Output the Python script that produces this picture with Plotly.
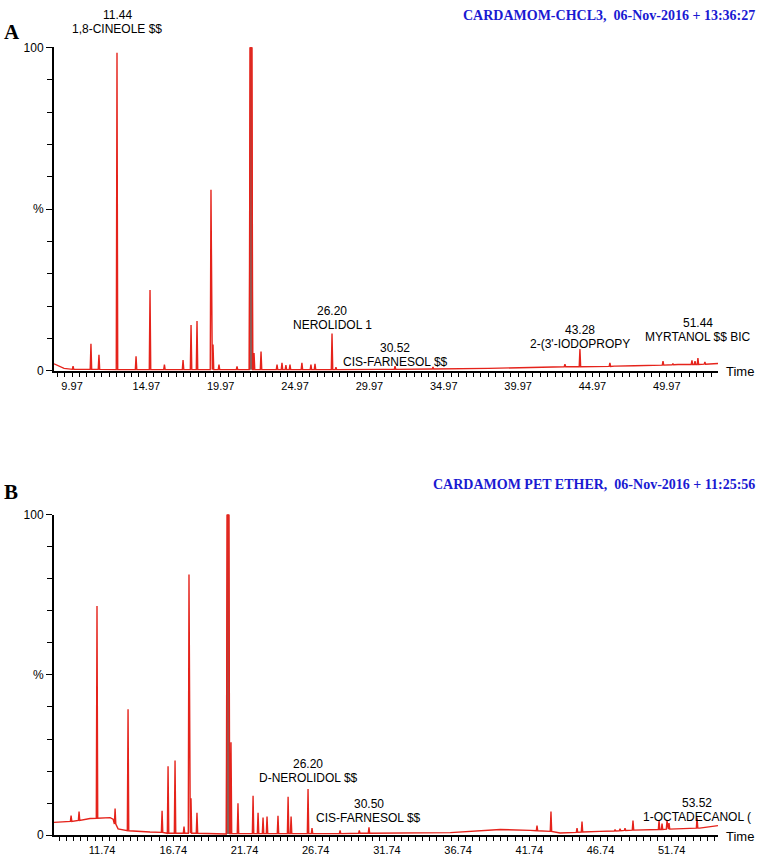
import plotly.graph_objects as go

# ---------------- Panel A data (CARDAMOM-CHCL3) ----------------
a_base_t = [7.11, 7.4, 7.8, 8.5, 12.0, 20.0, 29.5, 33.0, 37.0, 40.0, 44.0, 47.0, 50.0, 52.75]
a_base_y = [2.2, 1.6, 0.8, 0.5, 0.4, 0.4, 0.5, 0.6, 0.8, 1.1, 1.4, 1.6, 2.0, 2.3]
a_pk_t = [8.42, 9.65, 10.20, 11.44, 12.75, 13.71, 14.70, 15.98, 16.53, 16.94, 17.90, 18.04, 18.45,
          19.69, 20.86, 21.34, 22.44, 22.78, 23.05, 23.33, 24.15, 24.77, 25.05, 26.22, 26.49,
          30.55, 33.16, 42.23, 43.26, 45.32, 45.67, 48.97, 49.65, 50.96, 51.17, 51.37, 51.85]
a_pk_h = [1.5, 8.4, 5.0, 98.3, 4.5, 25.0, 2.0, 3.4, 14.2, 15.4, 56.0, 8.2, 2.0,
          1.4, 5.5, 6.0, 2.0, 2.5, 1.8, 2.0, 2.5, 2.0, 2.2, 11.6, 1.2,
          1.5, 1.2, 2.1, 6.8, 2.5, 1.6, 3.0, 2.3, 3.3, 3.0, 4.0, 2.8]
a_pk_f = [0.5, 0.5, 0.5, 0.4, 0.4, 0.4, 0.4, 0.4, 0.4, 0.4, 0.4, 0.4, 0.4,
          0.4, 0.4, 0.4, 0.4, 0.4, 0.4, 0.4, 0.4, 0.4, 0.4, 0.4, 0.4,
          0.5, 0.6, 1.3, 1.3, 1.4, 1.5, 1.8, 1.9, 2.0, 2.0, 2.0, 2.1]
a_main_t = [20.65]
a_main_h = [100.0]
a_lab_t = [11.44, 26.22, 30.55, 43.26, 51.37]
a_lab_y = [105.6, 14.3, 2.7, 8.3, 10.6]
a_lab_num = ["11.44", "26.20", "30.52", "43.28", "51.44"]
a_lab_name = ["1,8-CINEOLE $$", "NEROLIDOL 1", "CIS-FARNESOL $$", "2-(3'-IODOPROPY", "MYRTANOL $$ BIC"]
a_tick_text = ["9.97", "14.97", "19.97", "24.97", "29.97", "34.97", "39.97", "44.97", "49.97"]
a_tick_pos = [8.35, 13.46, 18.57, 23.68, 28.79, 33.90, 39.01, 44.12, 49.23]
a_title = "CARDAMOM-CHCL3,&nbsp; 06-Nov-2016 + 13:36:27"

# ---------------- Panel B data (CARDAMOM PET ETHER) ----------------
b_base_t = [8.36, 9.48, 10.89, 12.3, 12.51, 12.86, 13.35, 15.1, 16.5, 20.7, 30.0, 36.2,
            39.7, 41.8, 43.9, 46.7, 50.2, 53.7, 54.99]
b_base_y = [4.0, 4.3, 5.2, 5.5, 5.0, 2.0, 1.5, 1.0, 0.6, 0.5, 0.6, 0.8,
            1.8, 1.5, 0.7, 1.2, 1.8, 2.2, 3.0]
b_pk_t = [9.56, 10.12, 11.38, 12.65, 13.56, 15.95, 16.37, 16.86, 17.49, 17.84, 17.98, 18.40,
          20.79, 21.28, 22.34, 22.69, 23.04, 23.32, 24.09, 24.80, 25.01, 26.20, 26.48, 28.45,
          29.80, 30.48, 37.30, 38.77, 39.19, 42.28, 43.26, 45.09, 45.44, 47.76, 48.11, 48.46,
          49.02, 50.85, 51.06, 51.41, 51.55, 53.52]
b_pk_h = [6.1, 7.4, 71.5, 8.3, 39.3, 7.6, 21.5, 23.3, 2.7, 81.3, 11.5, 7.0,
          29.0, 10.0, 12.3, 7.0, 5.5, 5.8, 6.1, 12.0, 5.8, 14.4, 2.2, 1.5,
          1.5, 2.5, 1.2, 1.6, 1.8, 3.0, 7.4, 2.2, 4.3, 1.8, 2.0, 2.2,
          4.6, 4.6, 3.6, 4.6, 3.8, 5.5]
b_pk_f = [4.3, 4.6, 5.3, 3.5, 1.4, 0.9, 0.6, 0.6, 0.6, 0.6, 0.6, 0.6,
          0.5, 0.5, 0.5, 0.5, 0.5, 0.5, 0.5, 0.5, 0.5, 0.5, 0.5, 0.5,
          0.6, 0.6, 1.1, 1.5, 1.7, 1.4, 1.2, 0.9, 1.0, 1.3, 1.4, 1.5,
          1.6, 1.8, 1.8, 1.9, 1.9, 2.2]
b_main_t = [20.58]
b_main_h = [100.0]
b_lab_t = [26.20, 30.48, 53.52]
b_lab_y = [18.0, 5.4, 5.6]
b_lab_num = ["26.20", "30.50", "53.52"]
b_lab_name = ["D-NEROLIDOL $$", "CIS-FARNESOL $$", "1-OCTADECANOL ("]
b_tick_text = ["11.74", "16.74", "21.74", "26.74", "31.74", "36.74", "41.74", "46.74", "51.74"]
b_tick_pos = [11.74, 16.74, 21.74, 26.74, 31.74, 36.74, 41.74, 46.74, 51.74]
b_title = "CARDAMOM PET ETHER,&nbsp; 06-Nov-2016 + 11:25:56"

RED = "#e5231b"
W, H = 759, 856
HALF = 0.05       # half width of an ordinary peak (min)
MAIN_HALF = 0.12  # half width of the saturated main peak (min)
FONT = "Arial, Liberation Sans"
LINE_GAP = 14     # px between the retention-time line and the compound-name line


def build_series(bt, by, pt, ph, pf, mt, mh):
    pts = list(zip(bt, by))
    for t, h, f in zip(pt, ph, pf):
        pts += [(t - HALF, f), (t, h), (t + HALF, f)]
    for t, h in zip(mt, mh):
        pts += [(t - MAIN_HALF, 0.4), (t - MAIN_HALF * 0.5, h), (t + MAIN_HALF * 0.5, h), (t + MAIN_HALF, 0.4)]
    pts.sort(key=lambda p: p[0])
    return [p[0] for p in pts], [p[1] for p in pts]


def px_x(p):
    return p / W


def px_y(p):
    return 1 - p / H


panels = [
    dict(bt=a_base_t, by=a_base_y, pt=a_pk_t, ph=a_pk_h, pf=a_pk_f, mt=a_main_t, mh=a_main_h,
         lt=a_lab_t, ly=a_lab_y, lnum=a_lab_num, lname=a_lab_name, tpos=a_tick_pos, ttxt=a_tick_text,
         title=a_title, letter="A", xr=[7.11, 52.75], y0=370, y100=41, title_y=9, letter_y=25),
    dict(bt=b_base_t, by=b_base_y, pt=b_pk_t, ph=b_pk_h, pf=b_pk_f, mt=b_main_t, mh=b_main_h,
         lt=b_lab_t, ly=b_lab_y, lnum=b_lab_num, lname=b_lab_name, tpos=b_tick_pos, ttxt=b_tick_text,
         title=b_title, letter="B", xr=[8.36, 54.99], y0=842, y100=516, title_y=485, letter_y=493),
]

fig = go.Figure()
annotations = []
LEFT, RIGHT = 54, 718
for i, P in enumerate(panels):
    n = "" if i == 0 else str(i + 1)
    xa, ya = "x" + n, "y" + n
    px_per_unit = (P["y0"] - P["y100"]) / 100.0
    xs, ys = build_series(P["bt"], P["by"], P["pt"], P["ph"], P["pf"], P["mt"], P["mh"])
    for t, h in zip(P["mt"], P["mh"]):
        fig.add_trace(go.Scatter(x=[t - MAIN_HALF, t - MAIN_HALF * 0.5, t + MAIN_HALF * 0.5, t + MAIN_HALF],
                                 y=[0.4, h, h, 0.4], mode="lines", fill="toself",
                                 fillcolor="rgba(140,95,90,1)", line=dict(color=RED, width=1),
                                 xaxis=xa, yaxis=ya, showlegend=False, hoverinfo="skip"))
    fig.add_trace(go.Scatter(x=xs, y=ys, mode="lines", line=dict(color=RED, width=1.4),
                             xaxis=xa, yaxis=ya, showlegend=False))
    step = (P["tpos"][1] - P["tpos"][0]) / 10.0
    fig.layout["xaxis" + n] = dict(domain=[px_x(LEFT), px_x(RIGHT)], range=P["xr"], anchor=ya,
                                   showline=True, linecolor="black", linewidth=2, showgrid=False, zeroline=False,
                                   tickmode="array", tickvals=P["tpos"], ticktext=P["ttxt"],
                                   ticks="outside", ticklen=4, tickwidth=1, tickcolor="black",
                                   minor=dict(tick0=P["tpos"][0], dtick=step, ticks="outside", ticklen=4,
                                              tickwidth=1, tickcolor="black", showgrid=False),
                                   tickfont=dict(family=FONT, size=11, color="black"),
                                   fixedrange=True)
    fig.layout["yaxis" + n] = dict(domain=[px_y(P["y0"]), px_y(P["y100"])], range=[0, 100], anchor=xa,
                                   showline=True, linecolor="black", linewidth=2, showgrid=False, zeroline=False,
                                   tickmode="array", tickvals=[0, 50, 100], ticktext=["0", "%", "100"],
                                   ticks="outside", ticklen=6, tickwidth=1, tickcolor="black",
                                   minor=dict(dtick=10, ticks="outside", ticklen=5, tickwidth=1,
                                              tickcolor="black", showgrid=False),
                                   tickfont=dict(family=FONT, size=12, color="black"),
                                   fixedrange=True)
    for t, y, num, name in zip(P["lt"], P["ly"], P["lnum"], P["lname"]):
        # annotations outside the axis range are hidden, so clamp and shift in pixels
        y_in = min(y, 100.0)
        extra = (y - y_in) * px_per_unit
        annotations.append(dict(x=t, y=y_in, xref=xa, yref=ya, text=name, showarrow=False,
                                yanchor="middle", xanchor="center", yshift=extra,
                                font=dict(family=FONT, size=12, color="black")))
        annotations.append(dict(x=t, y=y_in, xref=xa, yref=ya, text=num, showarrow=False,
                                yanchor="middle", xanchor="center", yshift=extra + LINE_GAP,
                                font=dict(family=FONT, size=12, color="black")))
    annotations.append(dict(x=px_x(RIGHT + 6), y=px_y(P["y0"] + 1), xref="paper", yref="paper",
                            text="Time", showarrow=False, xanchor="left", yanchor="middle",
                            font=dict(family=FONT, size=13, color="black")))
    annotations.append(dict(x=px_x(757), y=px_y(P["title_y"]), xref="paper", yref="paper",
                            text="<b>" + P["title"] + "</b>", showarrow=False,
                            xanchor="right", yanchor="middle",
                            font=dict(family="Liberation Serif, Times New Roman", size=14, color="#1a1ad2")))
    annotations.append(dict(x=px_x(2), y=px_y(P["letter_y"]), xref="paper", yref="paper",
                            text="<b>" + P["letter"] + "</b>", showarrow=False,
                            xanchor="left", yanchor="middle",
                            font=dict(family="Liberation Serif, Times New Roman", size=21, color="black")))

fig.update_layout(width=W, height=H, autosize=False, margin=dict(l=0, r=0, t=0, b=0),
                  paper_bgcolor="white", plot_bgcolor="white", annotations=annotations,
                  showlegend=False)
fig.write_html("out.html", config={"displayModeBar": False},
               post_script="document.body.style.margin='0';document.body.style.overflow='hidden';")
